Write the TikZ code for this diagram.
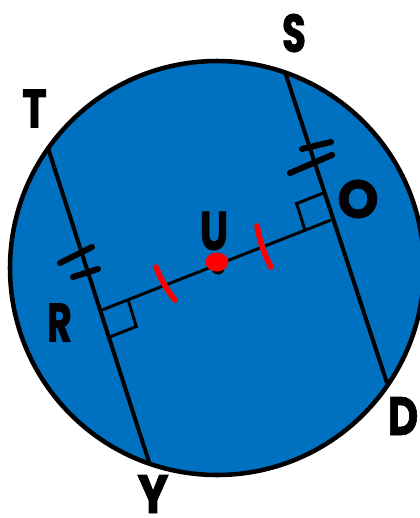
\documentclass[tikz,border=0pt]{standalone}
\usepackage{fontspec}
\usepackage{graphicx}
\newfontfamily\labfont[BoldFeatures={FakeBold=1.3}]{Poppins}
\usetikzlibrary{calc}
\definecolor{discblue}{HTML}{0070C0}
\definecolor{markred}{HTML}{FF0000}
\newcommand{\lab}[2]{\resizebox{#1pt}{28.5pt}{\labfont\bfseries #2}}
\tikzset{
  chord/.style={line width=3pt},
  radial/.style={line width=2.2pt},
  rightsq/.style={line width=2.2pt, line join=miter},
  tick/.style={line width=4.5pt, line cap=round},
  redtick/.style={line width=4.2pt, line cap=round, markred},
  letter/.style={inner sep=0pt, text=black}
}
\begin{document}
\begin{tikzpicture}[x=0.75pt,y=-0.75pt]
\useasboundingbox (0,0) rectangle (419,518);
% circle
\coordinate (C) at (217,268);
\fill[discblue] (C) circle (207);
\draw[line width=3.4pt] (C) circle (207);
% chord endpoints
\coordinate (T) at (48,148);
\coordinate (Y) at (149,462);
\coordinate (S) at (285,72);
\coordinate (D) at (387,383);
\coordinate (R) at (102,310);
\coordinate (O) at (331,220);
\draw[chord] (T) -- (Y);
\draw[chord] (S) -- (D);
\draw[radial] (R) -- (O);
% right-angle marks
\coordinate (Ra) at ($(R)!21pt!(O)$);
\coordinate (Rb) at ($(R)!21pt!(Y)$);
\draw[rightsq] (Ra) -- ($(Ra)+(Rb)-(R)$) -- (Rb);
\coordinate (Oa) at ($(O)!21pt!(R)$);
\coordinate (Ob) at ($(O)!21pt!(S)$);
\draw[rightsq] (Oa) -- ($(Oa)+(Ob)-(O)$) -- (Ob);
% equal-length ticks on chords
\coordinate (t1a) at (60,263); \coordinate (t1b) at (92,247);
\coordinate (t2a) at (73,277); \coordinate (t2b) at (98,269);
\draw[tick] (t1a) -- (t1b);
\draw[tick] (t2a) -- (t2b);
\coordinate (s1a) at (302,149); \coordinate (s1b) at (331,142);
\coordinate (s2a) at (290,173); \coordinate (s2b) at (332,155);
\draw[tick] (s1a) -- (s1b);
\draw[tick] (s2a) -- (s2b);
% red ticks
\coordinate (r1a) at (156,267); \coordinate (r1b) at (175,300);
\coordinate (r2a) at (257,226); \coordinate (r2b) at (271,267);
\draw[redtick] (r1a) to[bend right=8] (r1b);
\draw[redtick] (r2a) to[bend right=8] (r2b);
% centre dots
\fill[black] (218,268) circle (6.5);
\fill[markred] (217,262) ellipse (11.5 and 9.5);
% labels
\node[letter] (lT) at (34.5,108.5) {\lab{18.5}{T}};
\node[letter] (lS) at (294,33) {\lab{18}{S}};
\node[letter] (lO) at (358,199) {\lab{31}{O}};
\node[letter] (lU) at (214,231) {\lab{21.5}{U}};
\node[letter] (lR) at (59.5,322.5) {\lab{18.5}{R}};
\node[letter] (lY) at (153,494) {\lab{23.5}{Y}};
\node[letter] (lD) at (403,416) {\lab{23}{D}};
\end{tikzpicture}
\end{document}
